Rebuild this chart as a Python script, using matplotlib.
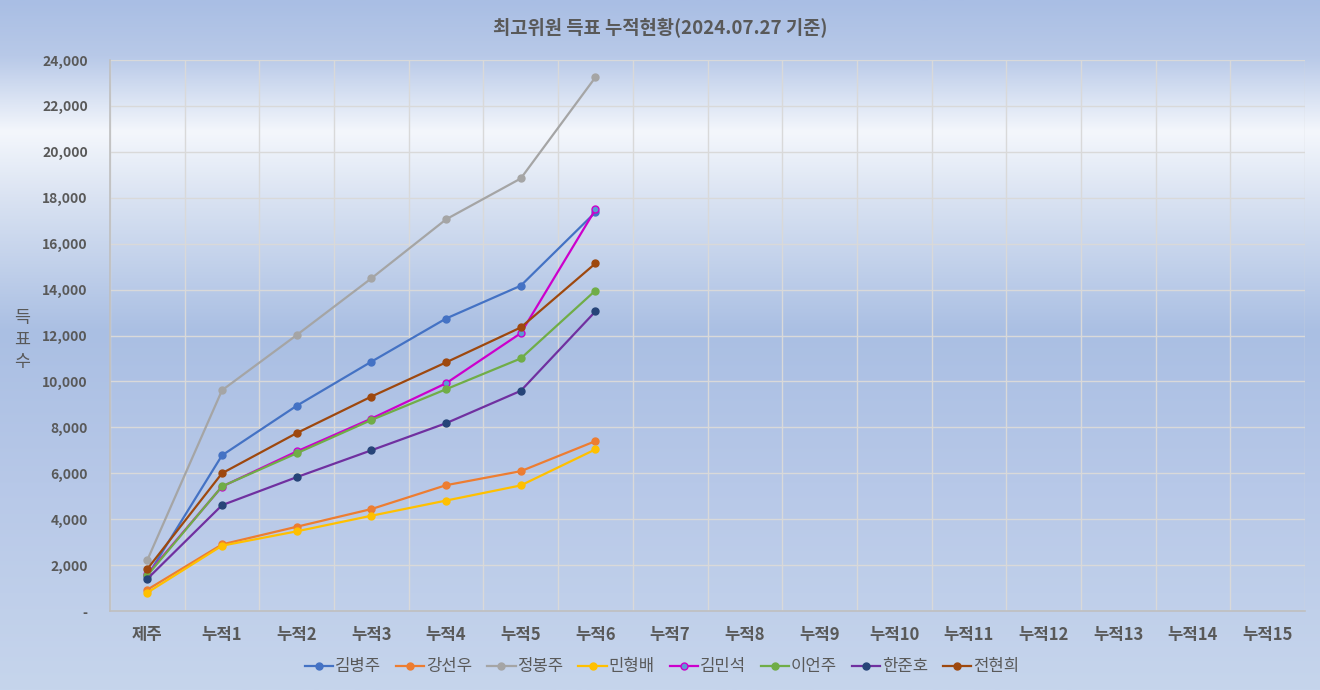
import numpy as np
import matplotlib.pyplot as plt
from matplotlib.colors import LinearSegmentedColormap
from matplotlib.ticker import FuncFormatter

plt.rcParams['font.family'] = ['Noto Sans CJK KR', 'DejaVu Sans']

# Data
categories = ['제주', '누적1', '누적2', '누적3', '누적4', '누적5', '누적6',
              '누적7', '누적8', '누적9', '누적10', '누적11', '누적12', '누적13', '누적14', '누적15']
names = ['김병주', '강선우', '정봉주', '민형배', '김민석', '이언주', '한준호', '전현희']
kim_bj = [1520, 6780, 8940, 10860, 12740, 14170, 17370]
kang_sw = [930, 2900, 3670, 4440, 5480, 6090, 7400]
jung_bj = [2220, 9615, 12020, 14490, 17060, 18840, 23250]
min_hb = [800, 2845, 3470, 4150, 4810, 5470, 7040]
kim_ms = [1600, 5420, 6950, 8380, 9920, 12100, 17490]
lee_ej = [1550, 5430, 6870, 8320, 9660, 11000, 13960]
han_jh = [1400, 4610, 5830, 7000, 8180, 9590, 13050]
jeon_hh = [1830, 6000, 7750, 9340, 10830, 12350, 15140]

series = [kim_bj, kang_sw, jung_bj, min_hb, kim_ms, lee_ej, han_jh, jeon_hh]
line_colors = ['#4472C4', '#ED7D31', '#A5A5A5', '#FFC000', '#CC00CC', '#70AD47', '#7030A0', '#9E480E']
marker_faces = ['#4472C4', '#ED7D31', '#A5A5A5', '#FFC000', '#5B9BD5', '#70AD47', '#264478', '#9E480E']
marker_edges = ['#4472C4', '#ED7D31', '#A5A5A5', '#FFC000', '#CC00CC', '#70AD47', '#264478', '#9E480E']

fig = plt.figure(figsize=(13.2, 6.9), dpi=100)

# gradient background
bg = fig.add_axes([0, 0, 1, 1], zorder=-10)
bg_cmap = LinearSegmentedColormap.from_list('bg', [
    (0.0, '#A9BEE4'), (0.08, '#B8C9E8'), (0.19, '#F4F7FC'), (0.30, '#D6E0F1'),
    (0.48, '#AABFE3'), (0.70, '#B7C8E8'), (1.0, '#C6D5EC')])
grad = np.linspace(0, 1, 256).reshape(-1, 1)
bg.imshow(grad, aspect='auto', cmap=bg_cmap, extent=[0, 1, 0, 1], origin='upper')
bg.set_axis_off()

ax = fig.add_axes([110 / 1320, 1 - 611 / 690, 1195 / 1320, 551 / 690])
ax.patch.set_alpha(0)

x = np.arange(len(categories))
for i, (name, vals) in enumerate(zip(names, series)):
    ax.plot(x[:len(vals)], vals, color=line_colors[i], lw=1.6, marker='o', ms=5,
            mfc=marker_faces[i], mec=marker_edges[i], mew=1, label=name, zorder=3 + i)

ax.set_xlim(-0.5, len(categories) - 0.5)
ax.set_ylim(0, 24000)
ax.set_yticks(np.arange(0, 24001, 2000))
ax.yaxis.set_major_formatter(FuncFormatter(lambda v, p: '-' if v == 0 else f'{int(v):,}'))
ax.set_xticks(x)
ax.set_xticklabels(categories)
ax.set_xticks(np.arange(-0.5, len(categories), 1), minor=True)

ax.grid(True, axis='y', color='#D9D9D9', lw=1)
ax.grid(True, axis='x', which='minor', color='#D9D9D9', lw=1)
ax.grid(False, axis='x', which='major')
ax.set_axisbelow(True)

for s in ['top', 'right']:
    ax.spines[s].set_visible(False)
for s in ['left', 'bottom']:
    ax.spines[s].set_color('#BFBFBF')
    ax.spines[s].set_linewidth(1.2)

ax.tick_params(axis='both', which='both', length=0, colors='#595959')
ax.tick_params(axis='y', pad=16, labelsize=10)
ax.tick_params(axis='x', pad=11, labelsize=12)
for lab in ax.get_yticklabels() + ax.get_xticklabels():
    lab.set_fontweight('bold')

fig.text(660 / 1320, 1 - 28 / 690, '최고위원 득표 누적현황(2024.07.27 기준)', ha='center', va='center',
         fontsize=13.5, fontweight='bold', color='#595959')
fig.text(22 / 1320, 1 - 340 / 690, '득\n표\n수', ha='center', va='center', fontsize=12.5,
         color='#595959', linespacing=1.3)

leg = fig.legend(loc='center', bbox_to_anchor=(662 / 1320, 1 - 667 / 690), ncol=8, frameon=False,
                 fontsize=12, handlelength=1.7, handletextpad=0.1, columnspacing=0.9)
for t in leg.get_texts():
    t.set_color('#595959')

fig.savefig('out.png', dpi=100)
